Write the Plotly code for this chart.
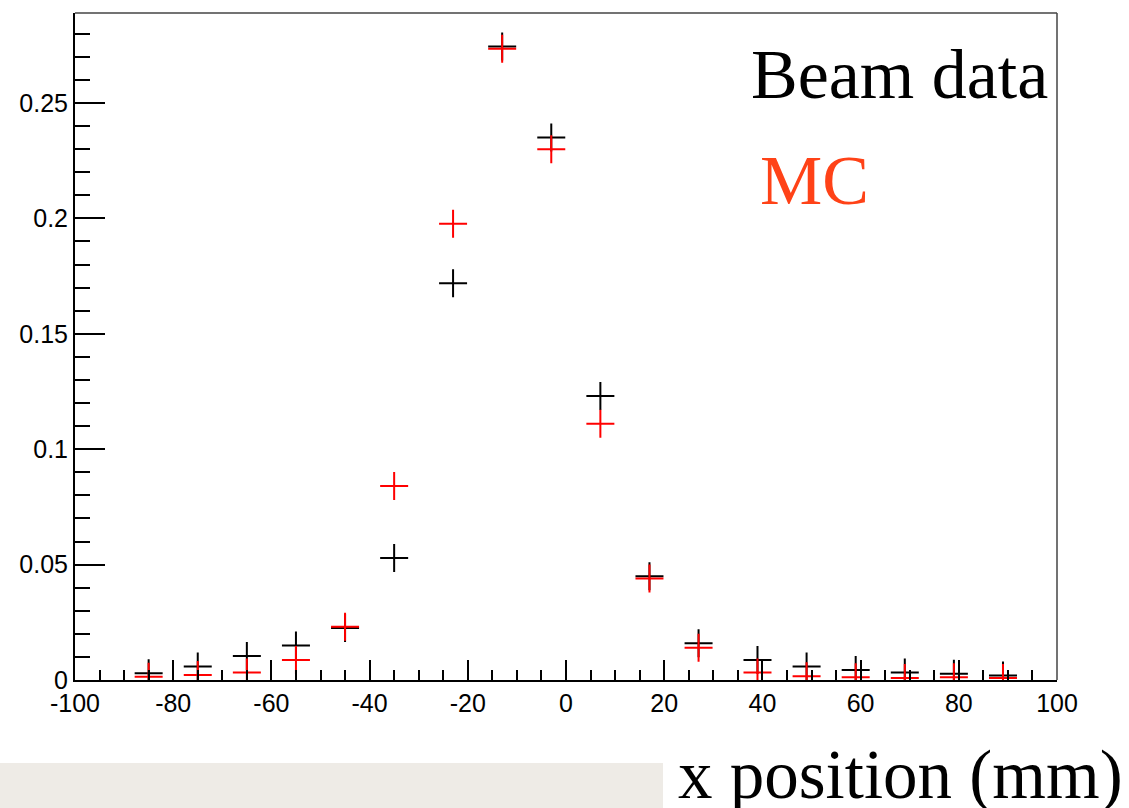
import plotly.graph_objects as go

# Bin centres (mm) and normalised counts
x_pos = [-85, -75, -65, -55, -45, -35, -23, -13, -3, 7, 17, 27, 39, 49, 59, 69, 79, 89]
beam_data = [0.0029, 0.0058, 0.0104, 0.0149, 0.0225, 0.0529, 0.1719, 0.2745, 0.2351, 0.1231,
             0.0450, 0.0159, 0.0087, 0.0058, 0.0043, 0.0033, 0.0027, 0.0020]
mc = [0.0014, 0.0022, 0.0033, 0.0087, 0.0231, 0.0841, 0.1977, 0.2735, 0.2300, 0.1110,
      0.0440, 0.0140, 0.0033, 0.0016, 0.0012, 0.0009, 0.0012, 0.0009]

x_ticks = [-100, -80, -60, -40, -20, 0, 20, 40, 60, 80, 100]
y_ticks = [0, 0.05, 0.1, 0.15, 0.2, 0.25]
y_tick_text = ["0", "0.05", "0.1", "0.15", "0.2", "0.25"]

fig = go.Figure()
fig.add_trace(go.Scatter(
    x=x_pos, y=beam_data, mode="markers", name="Beam data",
    marker=dict(symbol="cross-thin", size=20, line=dict(color="black", width=2)),
))
fig.add_trace(go.Scatter(
    x=x_pos, y=mc, mode="markers", name="MC",
    marker=dict(symbol="cross-thin", size=20, line=dict(color="#ff0000", width=2)),
))

tick_font = dict(family="Liberation Sans, Arial, sans-serif", size=25, color="black")

fig.update_layout(
    width=1129, height=808,
    margin=dict(l=75, r=72, t=13, b=128),
    paper_bgcolor="white", plot_bgcolor="white",
    showlegend=False,
    xaxis=dict(
        range=[-100, 100], tickvals=x_ticks, ticktext=[str(v) for v in x_ticks],
        ticks="inside", ticklen=20, tickwidth=2, tickcolor="black",
        minor=dict(dtick=5, ticks="inside", ticklen=10, tickwidth=2, tickcolor="black"),
        showline=True, linecolor="black", linewidth=2,
        showgrid=False, zeroline=False, tickfont=tick_font,
    ),
    yaxis=dict(
        range=[0, 0.289], tickvals=y_ticks, ticktext=y_tick_text,
        ticks="inside", ticklen=30, tickwidth=2, tickcolor="black",
        minor=dict(dtick=0.01, ticks="inside", ticklen=15, tickwidth=2, tickcolor="black"),
        showline=True, linecolor="black", linewidth=2,
        showgrid=False, zeroline=False, tickfont=tick_font,
    ),
)

# Thin frame on the top and right edges
fig.add_shape(type="line", xref="paper", yref="paper", x0=0, x1=1, y0=1, y1=1,
              line=dict(color="#444444", width=1.5))
fig.add_shape(type="line", xref="paper", yref="paper", x0=1, x1=1, y0=0, y1=1,
              line=dict(color="#444444", width=1.5))

# Light strip under the axis on the lower left
fig.add_shape(type="rect", xref="paper", yref="paper", x0=-0.08, x1=0.5988,
              y0=-0.2, y1=-0.1244, fillcolor="#eeebe6", line=dict(width=0), layer="below")

serif = "Liberation Serif, Times New Roman, serif"
fig.add_annotation(text="Beam data", xref="paper", yref="paper", x=0.686, y=0.9085,
                   xanchor="left", yanchor="middle", showarrow=False,
                   font=dict(family=serif, size=70, color="black"))
fig.add_annotation(text="MC", xref="paper", yref="paper", x=0.696, y=0.7496,
                   xanchor="left", yanchor="middle", showarrow=False,
                   font=dict(family=serif, size=70, color="#ff4217"))
fig.add_annotation(text="x position (mm)", xref="paper", yref="paper", x=1.0692, y=-0.143,
                   xanchor="right", yanchor="middle", showarrow=False,
                   font=dict(family=serif, size=69, color="black"))

fig.write_html("out.html")
